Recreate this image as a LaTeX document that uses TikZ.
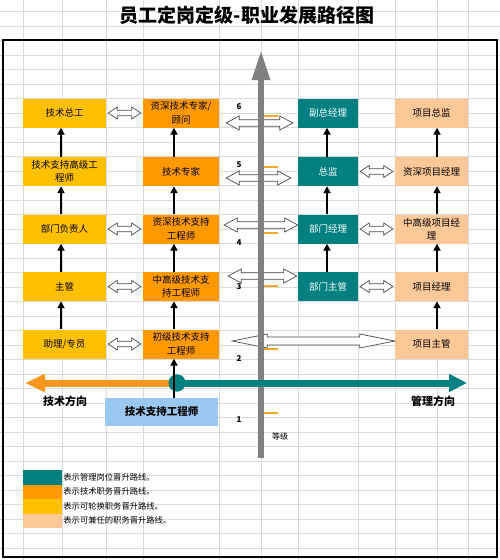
\documentclass[tikz,border=0pt]{standalone}
\usepackage{fontspec}
\setmainfont{Noto Sans CJK SC}
\usetikzlibrary{arrows.meta,calc}
\definecolor{teal1}{RGB}{0,128,128}
\definecolor{orange1}{RGB}{255,153,0}
\definecolor{yellow1}{RGB}{255,192,0}
\definecolor{peach1}{RGB}{252,200,152}
\definecolor{blue1}{RGB}{155,200,240}
\definecolor{dirorange}{RGB}{247,150,30}
\definecolor{gridc}{RGB}{218,218,218}
\definecolor{axisgray}{RGB}{128,128,128}
\definecolor{tickc}{RGB}{240,170,40}
\newcommand\blockdarrow[5]{%
  \draw[hollow] let \p1=#1, \p2=#2 in
    (\x1,\y1) -- (\x1+#3,\y1+#4) -- (\x1+#3,\y1+#5) -- (\x2-#3,\y1+#5)
    -- (\x2-#3,\y1+#4) -- (\x2,\y1) -- (\x2-#3,\y1-#4) -- (\x2-#3,\y1-#5)
    -- (\x1+#3,\y1-#5) -- (\x1+#3,\y1-#4) -- cycle;}
\tikzset{
  box/.style={minimum height=29pt, inner sep=1pt, align=center,
    font=\fontsize{9.5}{13.5}\selectfont},
  ybox/.style={box, fill=yellow1, minimum width=83pt},
  obox/.style={box, fill=orange1, minimum width=76pt},
  tbox/.style={box, fill=teal1, text=white, minimum width=60pt},
  pbox/.style={box, fill=peach1, minimum width=73pt},
  up/.style={line width=2.2pt, -{Triangle[length=7pt,width=7pt]}},
  hollow/.style={draw=black!70, fill=white, line width=0.7pt, line join=miter},
  lvl/.style={font=\bfseries\fontsize{8}{9}\selectfont},
  legtxt/.style={anchor=west, font=\fontsize{8.3}{9}\selectfont, inner sep=1pt},
  dirlab/.style={font=\bfseries\fontsize{11}{12}\selectfont},
  tick/.style={tickc, line width=1.3pt}
}
\begin{document}
\begin{tikzpicture}[x=1pt,y=-1pt]
\useasboundingbox (0,0) rectangle (500,560);
% grid
\foreach \k in {-2,...,35} \draw[gridc, line width=0.6pt] (0,40.5+14.5*\k) -- (500,40.5+14.5*\k);
\foreach \xx in {23,62,106,143,219,261,298,358,395,437,468} \draw[gridc, line width=0.6pt] (\xx,0) -- (\xx,560);
% frame
\draw[line width=1.6pt] (3,40) rectangle (497,557);
% title
\node[font=\bfseries\fontsize{19}{22}\selectfont] (title) at (247,15) {员工定岗定级-职业发展路径图};

% boxes column 1
\node[ybox] (y6) at (64.5,113) {技术总工};
\node[ybox] (y5) at (64.5,171.5) {技术支持高级工\\程师};
\node[ybox] (y4) at (64.5,229) {部门负责人};
\node[ybox] (y3) at (64.5,286.5) {主管};
\node[ybox] (y2) at (64.5,344) {助理/专员};
% column 2
\node[obox] (o6) at (181,113) {资深技术专家/\\顾问};
\node[obox] (o5) at (181,171.5) {技术专家};
\node[obox] (o4) at (181,229) {资深技术支持\\工程师};
\node[obox] (o3) at (181,286.5) {中高级技术支\\持工程师};
\node[obox] (o2) at (181,344) {初级技术支持\\工程师};
% column 3
\node[tbox] (t6) at (328,113) {副总经理};
\node[tbox] (t5) at (328,171.5) {总监};
\node[tbox] (t4) at (328,229) {部门经理};
\node[tbox] (t3) at (328,286.5) {部门主管};
% column 4
\node[pbox] (p6) at (431.5,113) {项目总监};
\node[pbox] (p5) at (431.5,171.5) {资深项目经理};
\node[pbox] (p4) at (431.5,229) {中高级项目经\\理};
\node[pbox] (p3) at (431.5,286.5) {项目经理};
\node[pbox] (p2) at (431.5,344) {项目主管};
% base box
\node[box, fill=blue1, minimum width=113pt, minimum height=28pt, font=\bfseries\fontsize{10.5}{12}\selectfont] (bl) at (161.5,412) {技术支持工程师};

% hollow arrows between columns
\foreach \a/\b in {y6/o6,y4/o4,y3/o3,y2/o2,t5/p5,t4/p4,t3/p3}
  \blockdarrow{($(\a.east)+(2,0)$)}{($(\b.west)+(-2,0)$)}{9pt}{6pt}{2.8pt};
% hollow arrows across axis
\blockdarrow{($(o6.east)+(7,10)$)}{($(t6.west)+(-5,0)$)}{13pt}{7pt}{3.3pt}
\blockdarrow{($(o5.east)+(7,6.5)$)}{($(t5.west)+(-7,0)$)}{13pt}{7pt}{3.3pt}
\blockdarrow{($(o4.east)+(5,-4)$)}{($(t4.west)+(0,0)$)}{13pt}{7pt}{3.3pt}
\blockdarrow{($(o3.east)+(9,-10.5)$)}{($(t3.west)+(-1,0)$)}{13pt}{7pt}{3.3pt}
\blockdarrow{($(o2.east)+(13,-3)$)}{(p2.west)}{35pt}{7pt}{4pt}

% vertical axis
\coordinate (axbot) at (261,458);
\coordinate (axtop) at (261,50);
\draw[axisgray, line width=6pt, -{Triangle[length=30pt,width=17pt]}] (axbot) -- (axtop);
\foreach \yy in {116,167,233,286,349,413} \draw[tick] (264,\yy) -- (278,\yy);
\node[lvl] (n6) at (239,107) {6};
\node[lvl] (n5) at (239,164.5) {5};
\node[lvl] (n4) at (239,243) {4};
\node[lvl] (n3) at (239,287) {3};
\node[lvl] (n2) at (239,359) {2};
\node[lvl] (n1) at (239,420) {1};
\node[font=\fontsize{8}{9}\selectfont] (grade) at (280,436) {等级};

% vertical black arrows
\foreach \a/\b in {y2/y3,y3/y4,y4/y5,y5/y6}
  \draw[up] (61,0 |- \a.north) -- (61,0 |- \b.south);
\foreach \a/\b in {o2/o3,o3/o4,o4/o5,o5/o6}
  \draw[up] (174,0 |- \a.north) -- (174,0 |- \b.south);
\foreach \a/\b in {t3/t4,t4/t5,t5/t6}
  \draw[up] (327,0 |- \a.north) -- (327,0 |- \b.south);
\foreach \a/\b in {p2/p3,p3/p4,p4/p5,p5/p6}
  \draw[up] (437,0 |- \a.north) -- (437,0 |- \b.south);

% direction arrows
\node[circle, fill=teal1, minimum size=17pt, inner sep=0pt] (hub) at (177,383) {};
\coordinate (techdir) at (25,383);
\coordinate (mgmtdir) at (467,383);
\draw[dirorange, line width=7pt, -{Triangle[length=20pt,width=17pt]}] (hub.center) -- (techdir);
\draw[teal1, line width=7pt, -{Triangle[length=18pt,width=17pt]}] (hub.center) -- (mgmtdir);
\node[circle, fill=teal1, minimum size=17pt, inner sep=0pt] at (hub) {};
\draw[up] (174,0 |- bl.north) -- (174,0 |- o2.south);
\node[dirlab] (techlab) at (65,401) {技术方向};
\node[dirlab] (mgmtlab) at (433,401) {管理方向};

% legend
\node[fill=teal1, minimum width=39pt, minimum height=14.5pt, inner sep=0pt] (lg1) at (42.5,477.25) {};
\node[fill=orange1, minimum width=39pt, minimum height=14.5pt, inner sep=0pt] (lg2) at (42.5,491.75) {};
\node[fill=yellow1, minimum width=39pt, minimum height=14.5pt, inner sep=0pt] (lg3) at (42.5,506.25) {};
\node[fill=peach1, minimum width=39pt, minimum height=14.5pt, inner sep=0pt] (lg4) at (42.5,520.75) {};
\node[legtxt] at (lg1.east) {表示管理岗位晋升路线。};
\node[legtxt] at (lg2.east) {表示技术职务晋升路线。};
\node[legtxt] at (lg3.east) {表示可轮换职务晋升路线。};
\node[legtxt] at (lg4.east) {表示可兼任的职务晋升路线。};
\end{tikzpicture}
\end{document}
